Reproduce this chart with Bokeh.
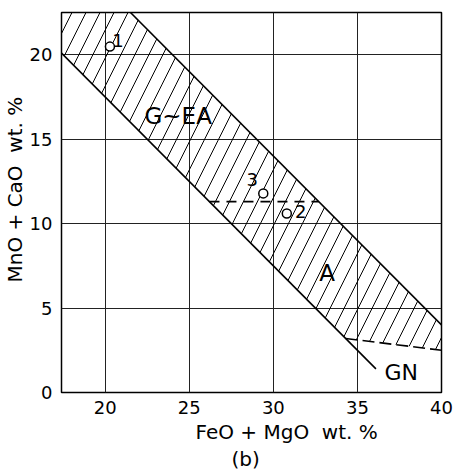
from bokeh.plotting import figure
from bokeh.models import FixedTicker, Label, ColumnDataSource, Title
from bokeh.core.properties import value
from bokeh.embed import file_html
from bokeh.resources import INLINE

# ---- data ----
x_ticks = [20, 25, 30, 35, 40]
y_ticks = [0, 5, 10, 15, 20]
x_lim = [17.4, 40.0]
y_lim = [0.0, 22.5]

upper_x = [21.5, 40.0]      # upper boundary of the band
upper_y = [22.5, 4.0]
lower_x = [17.4, 36.1]      # lower boundary of the band
lower_y = [20.1, 1.4]
gn_x = [34.3, 40.0]         # dashed A / GN boundary
gn_y = [3.2, 2.5]
mid_x = [26.2, 32.7]        # dashed line across the band
mid_y = [11.3, 11.3]

pts_x = [20.28, 30.8, 29.4]
pts_y = [20.48, 10.6, 11.79]
pts_lab = ["1", "2", "3"]
lab_dx = [8, 14, -11]
lab_dy = [-6, -2, -14]

zone_names = ["G~EA", "A", "GN"]
zone_x = [24.34, 33.2, 37.6]
zone_y = [16.37, 7.1, 1.2]
zone_size = ["23px", "23px", "22px"]

x_label = "FeO + MgO\u00a0\u00a0wt. %"
y_label = "MnO + CaO\u00a0\u00a0wt. %"
sub_label = "(b)"

FONT = "DejaVu Sans"

p = figure(width=456, height=470, x_range=(x_lim[0], x_lim[1]), y_range=(y_lim[0], y_lim[1]),
           output_backend="svg", toolbar_location=None,
           min_border_left=0, min_border_right=15, min_border_top=12, min_border_bottom=0)
p.background_fill_color = "white"
p.border_fill_color = "white"
p.outline_line_color = "black"
p.outline_line_width = 1.5

for ax in (p.xaxis, p.yaxis):
    ax.axis_line_color = None
    ax.major_tick_line_color = None
    ax.minor_tick_line_color = None
    ax.major_label_text_font = FONT
    ax.major_label_text_font_size = "18px"
    ax.major_label_text_color = "black"
p.xaxis.ticker = FixedTicker(ticks=x_ticks)
p.yaxis.ticker = FixedTicker(ticks=y_ticks)
p.xaxis.major_label_standoff = 2
p.yaxis.major_label_standoff = 3

p.xgrid.ticker = FixedTicker(ticks=x_ticks)
p.ygrid.ticker = FixedTicker(ticks=y_ticks)
for g in (p.xgrid, p.ygrid):
    g.grid_line_color = "#222222"
    g.grid_line_width = 1

p.add_layout(Title(text=x_label, align="left", offset=134, text_font=FONT, text_color="black",
                   text_font_size="20px", text_font_style="normal", standoff=2), "below")
p.add_layout(Title(text=sub_label, align="left", offset=170, text_font=FONT, text_color="black",
                   text_font_size="20px", text_font_style="normal", standoff=0), "below")
p.add_layout(Title(text=y_label, align="left", offset=110, text_font=FONT, text_color="black",
                   text_font_size="20px", text_font_style="normal", standoff=0), "left")

# hatched region of the band
poly_x = [x_lim[0], upper_x[0], upper_x[1], gn_x[1], gn_x[0], lower_x[0]]
poly_y = [y_lim[1], upper_y[0], upper_y[1], gn_y[1], gn_y[0], lower_y[0]]
p.patch(poly_x, poly_y, fill_color=None, line_color=None,
        hatch_pattern="/", hatch_color="black", hatch_scale=28, hatch_weight=1)

p.line(upper_x, upper_y, line_color="black", line_width=1.6)
p.line(lower_x, lower_y, line_color="black", line_width=1.6)
p.line(gn_x, gn_y, line_color="black", line_width=1.6, line_dash="12 5")
p.line(mid_x, mid_y, line_color="black", line_width=1.6, line_dash="10 7")

src = ColumnDataSource(dict(x=pts_x, y=pts_y, t=pts_lab, dx=lab_dx, dy=lab_dy))
p.scatter("x", "y", source=src, marker="circle", size=9, fill_color="white",
          line_color="black", line_width=1.5)
p.text("x", "y", text="t", source=src, x_offset="dx", y_offset="dy",
       text_font=value(FONT), text_font_size="18px", text_align="center",
       text_baseline="middle", text_color="black")

for name, zx, zy, fs in zip(zone_names, zone_x, zone_y, zone_size):
    p.add_layout(Label(x=zx, y=zy, text=name, text_font=FONT, text_font_size=fs,
                       text_align="center", text_baseline="middle", text_color="black"))

open("out.html", "w").write(file_html(p, INLINE))
